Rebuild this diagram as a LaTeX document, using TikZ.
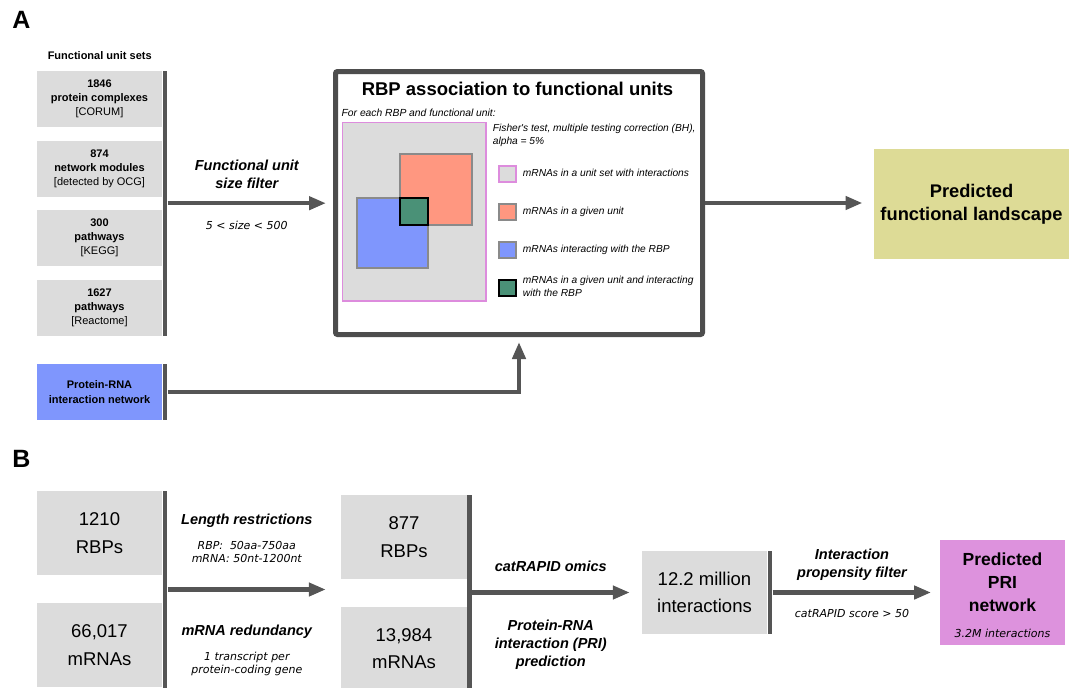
\documentclass[tikz,border=0pt]{standalone}
\usepackage{fontspec}
\setmainfont{Liberation Sans}
\newfontfamily\dvfont{DejaVu Sans}
\usetikzlibrary{arrows.meta}
\newcommand\fsz[2]{\fontsize{#1}{#2}\selectfont}
\definecolor{boxgray}{RGB}{220,220,220}
\definecolor{darkc}{RGB}{85,85,85}
\definecolor{framec}{RGB}{77,77,77}
\definecolor{bluebox}{RGB}{127,150,253}
\definecolor{salmonc}{RGB}{255,151,128}
\definecolor{greenb}{RGB}{74,145,119}
\definecolor{yellowb}{RGB}{221,219,150}
\definecolor{magb}{RGB}{221,146,221}
\definecolor{pinkb}{RGB}{221,140,221}
\definecolor{sqgray}{RGB}{138,138,138}
\begin{document}
\begin{tikzpicture}[x=1pt,y=-1pt,
  box/.style={fill=boxgray, inner sep=0pt, align=center},
  unitbox/.style={box, minimum width=125.6pt, minimum height=55.7pt, font=\fsz{11}{14.2}},
  bigbox/.style={box, minimum width=125.6pt, minimum height=84pt, font=\fsz{18.5}{27.6}},
  barc/.style={fill=darkc, inner sep=0pt, minimum width=4.8pt},
  arr/.style={draw=darkc, line width=4.5pt, -{Triangle[length=17pt,width=13pt]}},
  lab/.style={font=\bfseries\itshape\fsz{14.5}{18.3}, align=center, inner sep=0pt},
  note/.style={font=\dvfont\itshape\fsz{11}{13.2}, align=center, inner sep=0pt},
  leg/.style={font=\itshape\fsz{10.2}{12.7}, align=left, inner sep=0pt},
  sq/.style={minimum width=17pt, minimum height=16pt, inner sep=0pt, line width=1.7pt},
  panel/.style={font=\bfseries\fsz{25}{30}, anchor=base west, inner sep=0pt}]
\useasboundingbox (0,0) rectangle (1077,688);

% ---------------- Panel A ----------------
\node[panel] (labA) at (12.3,28.3) {A};
\node[font=\bfseries\fsz{11}{13}, anchor=base, inner sep=0pt] (fus) at (99.7,59) {Functional unit sets};
\node[unitbox] (corum) at (99.5,98.7) {\textbf{1846}\\\textbf{protein complexes}\\{[CORUM]}};
\node[unitbox] (ocg) at (99.5,168.8) {\textbf{874}\\\textbf{network modules}\\{[detected by OCG]}};
\node[unitbox] (kegg) at (99.5,237.8) {\textbf{300}\\\textbf{pathways}\\{[KEGG]}};
\node[unitbox] (reactome) at (99.5,307.8) {\textbf{1627}\\\textbf{pathways}\\{[Reactome]}};
\node[barc, minimum height=265pt] (barA) at (165,203.2) {};
\node[unitbox, fill=bluebox, font=\bfseries\fsz{11}{14.2}] (prinw) at (99.5,392) {Protein-RNA\\interaction network};
\node[barc, minimum height=56pt] (barP) at (165,392) {};

% big box
\node[draw=framec, line width=5pt, rounded corners=2pt, minimum width=367pt, minimum height=263pt, inner sep=0pt, fill=white] (rbp) at (519,203) {};
\node[font=\bfseries\fsz{18.5}{22}, anchor=base, inner sep=0pt] (title) at (517.5,95) {RBP association to functional units};
\node[font=\itshape\fsz{10.3}{12}, anchor=base west, inner sep=0pt] (foreach) at (341.5,116) {For each RBP and functional unit:};
\node[draw=pinkb, fill=boxgray, line width=1.5pt, minimum width=143.5pt, minimum height=178.5pt, inner sep=0pt] (uset) at (414.2,211.7) {};
\node[draw=sqgray, fill=salmonc, line width=1.7pt, minimum width=72pt, minimum height=71pt, inner sep=0pt] (unitsq) at (436,189.5) {};
\node[draw=sqgray, fill=bluebox, line width=1.7pt, minimum width=71pt, minimum height=70pt, inner sep=0pt] (intsq) at (392.5,233) {};
\node[draw=black, fill=greenb, line width=2pt, minimum width=28pt, minimum height=27pt, inner sep=0pt] (both) at (414,211.5) {};
\node[leg, anchor=west] (fisher) at (492.7,135.4) {Fisher\textquotesingle s test, multiple testing correction (BH),\\alpha = 5\%};
\node[sq, draw=pinkb, fill=boxgray] (lg1) at (507.5,174) {};
\node[sq, draw=sqgray, fill=salmonc] (lg2) at (507.5,212) {};
\node[sq, draw=sqgray, fill=bluebox] (lg3) at (507.5,250) {};
\node[sq, draw=black, fill=greenb, line width=2pt] (lg4) at (507.5,287.5) {};
\node[leg, anchor=base west] (lt1) at (522.7,176.7) {mRNAs in a unit set with interactions};
\node[leg, anchor=base west] (lt2) at (522.7,214.3) {mRNAs in a given unit};
\node[leg, anchor=base west] (lt3) at (522.7,252.3) {mRNAs interacting with the RBP};
\node[leg, anchor=west] (lt4) at (522.7,286.6) {mRNAs in a given unit and interacting\\with the RBP};

% landscape
\node[fill=yellowb, minimum width=195pt, minimum height=110pt, inner sep=0pt, font=\bfseries\fsz{18.3}{23.7}, align=center] (land) at (971.5,204.3) {Predicted\\functional landscape};

% connectors A
\draw[arr, shorten >=7pt] (barA.east) -- (barA.east -| rbp.west);
\draw[arr, shorten >=11.3pt] (rbp.east) -- (rbp.east -| land.west);
\draw[arr, shorten >=5pt] (barP.east) -| (rbp.south);
\node[lab] (sizef) at (246.8,174.6) {Functional unit\\size filter};
\node[note, anchor=base] (sizer) at (246.8,229.3) {5 < size < 500};

% ---------------- Panel B ----------------
\node[panel] (labB) at (12.3,467) {B};
\node[bigbox] (rbp1210) at (99.5,533) {1210\\RBPs};
\node[bigbox] (mrna66) at (99.5,645) {66,017\\mRNAs};
\node[barc, minimum height=197pt] (barB1) at (165,589.5) {};
\node[bigbox, minimum width=126pt] (rbp877) at (404,537) {877\\RBPs};
\node[bigbox, minimum width=126pt, minimum height=83pt] (mrna13) at (404,648.5) {13,984\\mRNAs};
\node[barc, minimum height=196pt] (barB2) at (469.2,592.5) {};
\node[bigbox, minimum width=125pt, minimum height=83pt] (m12) at (704.5,592.5) {12.2 million\\interactions};
\node[barc, minimum height=83pt] (barB3) at (770,592.5) {};
\node[fill=magb, minimum width=125.6pt, minimum height=105pt, inner sep=0pt] (prinet) at (1002.5,592.8) {};
\node[font=\bfseries\fsz{17.5}{23}, align=center, inner sep=0pt] (prittl) at (1002.5,582.6) {Predicted\\PRI\\network};
\node[note, anchor=base] (prinote) at (1002.5,637) {3.2M interactions};

\draw[arr, shorten >=15pt] (barB1.east) -- (barB1.east -| rbp877.west);
\draw[arr, shorten >=12pt] (barB2.east) -- (barB2.east -| m12.west);
\draw[arr, shorten >=8.4pt] (barB3.east) -- (barB3.east -| prinet.west);

\node[lab, anchor=base] (lenr) at (246.8,524.3) {Length restrictions};
\node[note] (lenn) at (246.8,552) {RBP:\ \ 50aa-750aa\\mRNA: 50nt-1200nt};
\node[lab, anchor=base] (redun) at (246.8,635) {mRNA redundancy};
\node[note] (redn) at (246.8,664) {1 transcript per\\protein-coding gene};
\node[lab, anchor=base] (omics) at (550.8,571.7) {catRAPID omics};
\node[lab] (pripred) at (550.8,644.6) {Protein-RNA\\interaction (PRI)\\prediction};
\node[lab] (ipf) at (852,565) {Interaction\\propensity filter};
\node[note, anchor=base] (score) at (852,617) {catRAPID score > 50};
\end{tikzpicture}
\end{document}
